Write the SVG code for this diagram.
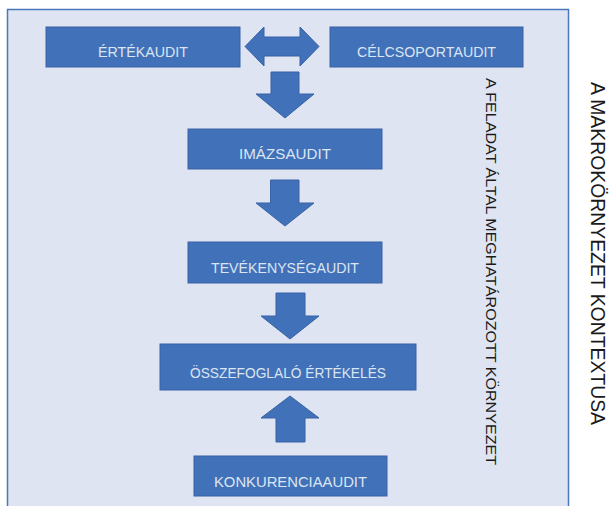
<svg xmlns="http://www.w3.org/2000/svg" width="611" height="506" viewBox="0 0 611 506">
  <style>
    .box { fill: #4171b8; stroke: #3863a6; stroke-width: 1; }
    .arrow { fill: #4171b8; stroke: #3863a6; stroke-width: 1; stroke-linejoin: miter; }
    .label { font-family: "Liberation Sans", Arial, sans-serif; font-size: 15px; fill: #dce5f3; text-anchor: middle; }
    .side { font-family: "Liberation Sans", Arial, sans-serif; fill: #1a1a1a; }
  </style>

  <!-- white page -->
  <rect x="0" y="0" width="611" height="506" fill="#ffffff"/>

  <!-- task-defined environment frame -->
  <g id="environment">
    <rect x="7.5" y="9.5" width="561" height="510" fill="#dee4f1" stroke="#4a78be" stroke-width="1.5"/>
    <text class="side" font-size="15.5" transform="translate(486,78) rotate(90)" textLength="387" lengthAdjust="spacingAndGlyphs">A FELADAT ÁLTAL MEGHATÁROZOTT KÖRNYEZET</text>
  </g>

  <!-- macro-environment caption -->
  <g id="macro-context">
    <text class="side" font-size="20" transform="translate(590.5,82) rotate(90)" textLength="343" lengthAdjust="spacingAndGlyphs">A MAKROKÖRNYEZET KONTEXTUSA</text>
  </g>

  <!-- block arrows -->
  <g id="connectors">
    <polygon class="arrow" points="245,46.5 264,27 264,37 300,37 300,27 319,46.5 300,66 300,56 264,56 264,66"/>
    <polygon class="arrow" points="271,72 299,72 299,94 314,94 285,118 256,94 271,94"/>
    <polygon class="arrow" points="270.5,180 299,180 299,203 314,203 285,226 256,203 270.5,203"/>
    <polygon class="arrow" points="276,293 305,293 305,316 319,316 290,339 261,316 276,316"/>
    <polygon class="arrow" points="290,396 319,418 305,418 305,442 276,442 276,418 261,418"/>
  </g>

  <g id="ertekaudit">
    <rect class="box" x="46" y="27" width="194" height="40"/>
    <text class="label" x="143" y="57" textLength="90" lengthAdjust="spacingAndGlyphs">ÉRTÉKAUDIT</text>
  </g>

  <g id="celcsoportaudit">
    <rect class="box" x="330" y="27" width="193" height="40"/>
    <text class="label" x="426.5" y="57" textLength="139" lengthAdjust="spacingAndGlyphs">CÉLCSOPORTAUDIT</text>
  </g>

  <g id="imazsaudit">
    <rect class="box" x="188" y="129" width="194" height="40"/>
    <text class="label" x="285" y="159" textLength="92" lengthAdjust="spacingAndGlyphs">IMÁZSAUDIT</text>
  </g>

  <g id="tevekenysegaudit">
    <rect class="box" x="188" y="242" width="194" height="41"/>
    <text class="label" x="285" y="273" textLength="148" lengthAdjust="spacingAndGlyphs">TEVÉKENYSÉGAUDIT</text>
  </g>

  <g id="osszefoglalo-ertekeles">
    <rect class="box" x="160" y="344" width="256" height="46"/>
    <text class="label" x="288" y="378" textLength="196" lengthAdjust="spacingAndGlyphs">ÖSSZEFOGLALÓ ÉRTÉKELÉS</text>
  </g>

  <g id="konkurenciaaudit">
    <rect class="box" x="194" y="456" width="193" height="40"/>
    <text class="label" x="290.5" y="487" textLength="153" lengthAdjust="spacingAndGlyphs">KONKURENCIAAUDIT</text>
  </g>
</svg>
